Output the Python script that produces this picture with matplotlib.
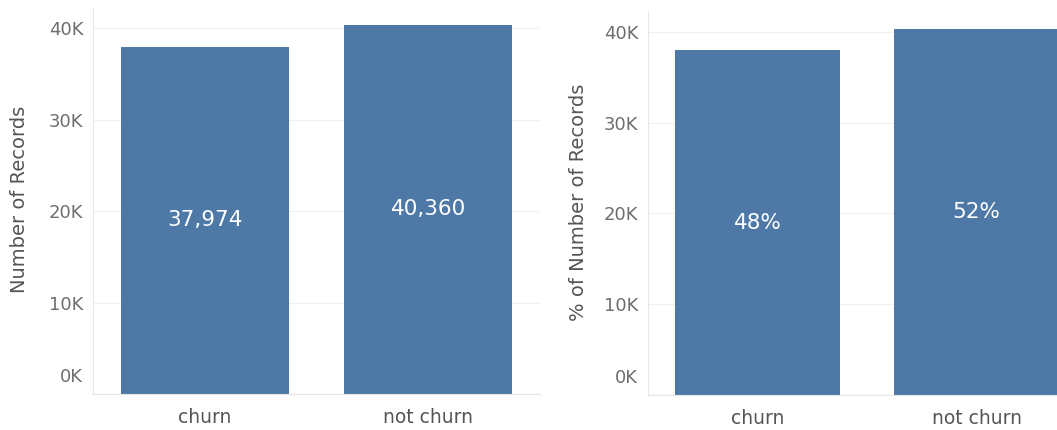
"""Churn vs not churn: record counts and share of records"""

import matplotlib
matplotlib.use("Agg")

import matplotlib.pyplot as plt
from matplotlib.transforms import ScaledTranslation

# ==========================================================
# DATA
# ==========================================================

categories = ["churn", "not churn"]
records = [37974, 40360]
y_ticks = [0, 10000, 20000, 30000, 40000]
y_tick_labels = ["0K", "10K", "20K", "30K", "40K"]

total = sum(records)
shares = [v / total for v in records]

# ==========================================================
# STYLE
# ==========================================================

plt.rcParams["font.family"] = ["DejaVu Sans"]

BAR = "#4e79a7"
GRID = "#f0f0f0"
AXIS = "#e6e6e6"
TICK = "#6e6e6e"
TITLE = "#555555"

W, H = 1057, 430
fig = plt.figure(figsize=(W / 100, H / 100), dpi=100, facecolor="white")


def px_axes(x0, x1, y_top, y_bottom):
    # axes placed by pixel edges (y measured from top)
    return fig.add_axes([x0 / W, 1 - y_bottom / H, (x1 - x0) / W, (y_bottom - y_top) / H])


def style_axes(ax, ylabel, ylabel_x, ylabel_y):
    ax.set_xlim(-0.5, 1.5)
    ax.set_ylim(0, 42200)
    ax.set_yticks(y_ticks)
    ax.set_yticklabels(y_tick_labels)
    ax.set_xticks(range(len(categories)))
    ax.set_xticklabels(categories)

    ax.tick_params(axis="y", length=0, pad=7, labelsize=13, labelcolor=TICK)
    ax.tick_params(axis="x", length=0, pad=10, labelsize=13.5, labelcolor=TITLE)

    # Tableau keeps the zero label above the baseline
    zero = ax.get_yticklabels()[0]
    zero.set_transform(zero.get_transform() + ScaledTranslation(0, 19 / 100, fig.dpi_scale_trans))

    for sp in ["top", "right"]:
        ax.spines[sp].set_visible(False)
    ax.spines["left"].set_color(AXIS)
    ax.spines["bottom"].set_color(AXIS)
    ax.spines["left"].set_linewidth(0.8)
    ax.spines["bottom"].set_linewidth(0.8)

    ax.grid(axis="y", color=GRID, linewidth=0.8)
    ax.set_axisbelow(True)

    fig.text(ylabel_x / W, 1 - ylabel_y / H, ylabel, rotation=90,
             ha="center", va="center", fontsize=14, color=TITLE)


# ==========================================================
# LEFT: NUMBER OF RECORDS
# ==========================================================

ax_left = px_axes(93, 540, 8, 394)
ax_left.bar(range(len(categories)), records, width=0.75, color=BAR, zorder=2)

for i, v in enumerate(records):
    ax_left.text(i, v / 2, f"{v:,}", ha="center", va="center",
                 fontsize=15.5, color="white", zorder=3)

style_axes(ax_left, "Number of Records", 20, 199)

# ==========================================================
# RIGHT: % OF NUMBER OF RECORDS
# ==========================================================

ax_right = px_axes(648, 1086, 12, 395)
ax_right.bar(range(len(categories)), records, width=0.75, color=BAR, zorder=2)

for i, (v, s) in enumerate(zip(records, shares)):
    ax_right.text(i, v / 2, f"{s:.0%}", ha="center", va="center",
                  fontsize=15.5, color="white", zorder=3)

style_axes(ax_right, "% of Number of Records", 578, 202)

# ==========================================================
# SAVE
# ==========================================================

fig.savefig("out.png", dpi=100, facecolor="white")
plt.close()
